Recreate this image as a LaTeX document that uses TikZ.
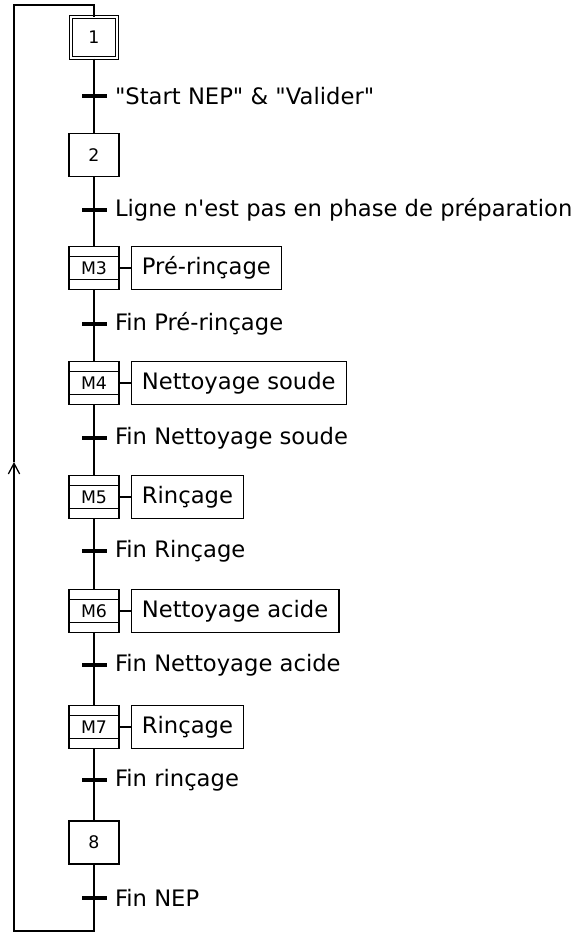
\documentclass[tikz,border=0pt]{standalone}
\usepackage{fontspec}
\newfontfamily\grafcetfont{DejaVu Sans}
\usetikzlibrary{arrows.meta,positioning}
\tikzset{
  ligne/.style={line width=0.95pt},
  etape/.style={
    rectangle, draw, line width=0.95pt,
    minimum width=37.5pt, minimum height=32.25pt,
    inner sep=0pt, font=\grafcetfont\fontsize{13}{15}\selectfont
  },
  etapeinit/.style={
    etape, double, double distance=1.4pt,
    minimum width=34.3pt, minimum height=30.55pt
  },
  macro/.style={
    etape,
    path picture={
      \draw[line width=0.95pt] ([yshift=-7.75pt]path picture bounding box.north west)
        -- ([yshift=-7.75pt]path picture bounding box.north east);
      \draw[line width=0.95pt] ([yshift=7.75pt]path picture bounding box.south west)
        -- ([yshift=7.75pt]path picture bounding box.south east);
    }
  },
  action/.style={
    rectangle, draw, line width=0.95pt,
    minimum height=32.25pt, inner xsep=8pt, inner ysep=0pt,
    font=\grafcetfont\fontsize{17}{20}\selectfont
  },
  transition/.style={
    rectangle, fill=black, minimum width=18.75pt, minimum height=2.6pt,
    inner sep=0pt
  },
  recept/.style={
    inner sep=1pt, font=\grafcetfont\fontsize{17}{20}\selectfont
  },
}

\begin{document}
\begin{tikzpicture}[x=0.75pt, y=-0.75pt]
  \useasboundingbox (0,0) rectangle (577,933);

  % Steps
  \node[etapeinit] (e1) at (94,37.5) {1};
  \node[etape] (e2) at (94,155) {2};
  \node[macro] (m3) at (94,268) {M3};
  \node[macro] (m4) at (94,383) {M4};
  \node[macro] (m5) at (94,497) {M5};
  \node[macro] (m6) at (94,611) {M6};
  \node[macro] (m7) at (94,727) {M7};
  \node[etape] (e8) at (94,842.5) {8};

  % Actions
  \node[action, right=8.25pt of m3] (a3) {Pré-rinçage};
  \node[action, right=8.25pt of m4] (a4) {Nettoyage soude};
  \node[action, right=8.25pt of m5] (a5) {Rinçage};
  \node[action, right=8.25pt of m6] (a6) {Nettoyage acide};
  \node[action, right=8.25pt of m7] (a7) {Rinçage};
  \foreach \m in {3,...,7}
    \draw[ligne] (m\m) -- (a\m);

  % Transitions and receptivities
  \node[transition] (t1) at (94,96) {};
  \node[transition] (t2) at (94,210) {};
  \node[transition] (t3) at (94,324) {};
  \node[transition] (t4) at (94,438) {};
  \node[transition] (t5) at (94,551) {};
  \node[transition] (t6) at (94,665) {};
  \node[transition] (t7) at (94,780) {};
  \node[transition] (t8) at (94,898) {};

  \node[recept, right=5pt of t1] (r1) {"Start NEP" \& "Valider"};
  \node[recept, right=5pt of t2] (r2) {Ligne n'est pas en phase de préparation};
  \node[recept, right=5pt of t3] (r3) {Fin Pré-rinçage};
  \node[recept, right=5pt of t4] (r4) {Fin Nettoyage soude};
  \node[recept, right=5pt of t5] (r5) {Fin Rinçage};
  \node[recept, right=5pt of t6] (r6) {Fin Nettoyage acide};
  \node[recept, right=5pt of t7] (r7) {Fin rinçage};
  \node[recept, right=5pt of t8] (r8) {Fin NEP};

  % Main sequence
  \draw[ligne] (e1) -- (t1) -- (e2) -- (t2) -- (m3) -- (t3) -- (m4) -- (t4)
    -- (m5) -- (t5) -- (m6) -- (t6) -- (m7) -- (t7) -- (e8) -- (t8);

  % Loop back to the initial step
  \coordinate (bd) at (94,931);
  \coordinate (bg) at (14,931);
  \coordinate (fl) at (14,462);
  \coordinate (hg) at (14,5);
  \coordinate (hd) at (94,5);
  \draw[ligne, -{Straight Barb[length=8pt, width=8.5pt]}] (t8) -- (bd) -- (bg) -- (fl);
  \draw[ligne] (fl) -- (hg) -- (hd) -- (e1);
\end{tikzpicture}
\end{document}
